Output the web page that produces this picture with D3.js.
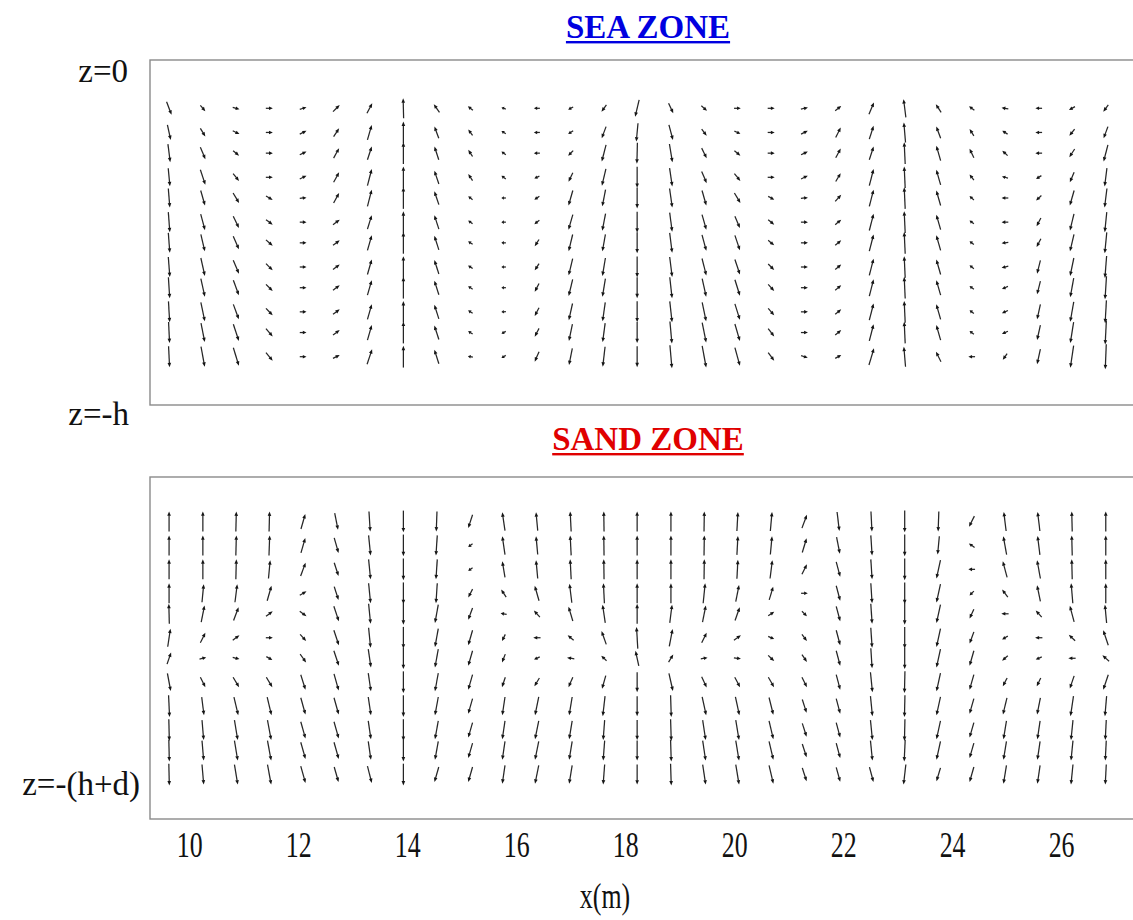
<!DOCTYPE html>
<html>
<head>
<meta charset="utf-8">
<script src="https://cdn.jsdelivr.net/npm/d3@7"></script>
<style>
  html, body { margin: 0; padding: 0; background: #fff; }
  svg { display: block; }
</style>
</head>
<body>
<svg id="chart" width="1133" height="920"></svg>
<script>
// Horizontal positions of the sampling columns (m)
const xCols = [9.63, 10.25, 10.86, 11.47, 12.09, 12.70, 13.31, 13.93, 14.54, 15.16,
               15.77, 16.38, 17.00, 17.61, 18.22, 18.84, 19.45, 20.06, 20.68, 21.29,
               21.91, 22.52, 23.13, 23.75, 24.36, 24.97, 25.59, 26.20, 26.82];
// Sampling depths, z/h (sea layer) and z/h (sand layer)
const zSea  = [-0.14, -0.21, -0.27, -0.34, -0.40, -0.47, -0.53, -0.60, -0.66, -0.73, -0.79, -0.86];
const zSand = [-1.13, -1.20, -1.27, -1.34, -1.40, -1.47, -1.53, -1.60, -1.67, -1.74, -1.80, -1.87];
const xTicks = [10, 12, 14, 16, 18, 20, 22, 24, 26];

// Sea zone: horizontal velocity u (rows = depth, columns = x)
const seaU = [
  [5, 5, 6.7, 7, 6.7, 6.7, 5.3, -0.5, -5.7, -5, -4.3, -6, -5, -5, -4, 4.7, 5.7, 6.7, 7, 7, 6, 5, -2.3, -5.3, -5.3, -6.7, -6.7, -6, -5],
  [3.3, 5, 6.7, 7, 6.7, 5.5, 4.3, 0, -4.3, -4.3, -4.3, -6, -5, -4.3, -1.7, 4, 5, 6, 7, 6.7, 5, 4.3, -1.7, -4.3, -4.3, -5.3, -6.7, -5.3, -4.3],
  [2.3, 5, 6, 7, 6.7, 5.5, 4.3, 0, -4.3, -4.3, -4.3, -6, -5, -4.3, -0.5, 3, 5, 6, 7, 6.7, 5, 4.3, -1, -4.3, -4.3, -5.3, -6.7, -5.3, -4.3],
  [1.7, 5, 6, 7, 6.7, 5.5, 4.3, 0, -4.5, -4.3, -4.3, -5, -4.3, -4, 0, 2.7, 5, 6, 7, 6.7, 5, 4.3, -1, -4.3, -4.3, -6, -5.3, -4.3, -2.3],
  [1.5, 4.3, 6, 6.7, 6.7, 5.5, 4.3, 0, -4.5, -4.3, -4.5, -5, -4.3, -3.3, 0, 2.7, 4.3, 6, 6, 7, 6, 4.3, -1, -4.3, -4.3, -6.7, -5.3, -4.3, -2.3],
  [1.5, 4.3, 5.7, 6.7, 6.7, 6.7, 4.3, 0, -4.5, -4.3, -4.5, -5, -4.3, -3.3, 0, 2.5, 4.3, 5, 6, 7, 6, 4.3, -1, -4.3, -4.3, -6.7, -4.3, -4, -2],
  [1.5, 4, 5.7, 6.7, 6.7, 6.7, 4.3, 0, -4.5, -4.5, -4.5, -4.3, -4, -3, 0, 2.5, 4.3, 5, 6, 7, 6, 4.3, -1, -4.3, -4.3, -6.7, -4.3, -4, -2],
  [1.5, 4, 5.7, 6.7, 6.7, 6.7, 4.3, 0, -4.5, -4.5, -4.5, -4.3, -4, -3, 0, 2.5, 4.3, 5, 6, 7, 6, 4.3, -1, -4.3, -4.3, -6.7, -3.3, -3.7, -1.7],
  [1.3, 4, 5.5, 6.7, 6.7, 6.7, 4.3, 0, -4.5, -4.5, -4.5, -4.3, -4, -3, 0, 2.3, 4, 5, 6, 7, 6, 4.3, -1, -4.3, -4.3, -6, -3.3, -3.5, -1.5],
  [1.2, 4, 5.5, 6.7, 6.7, 6.7, 4.3, 0, -4.5, -4.5, -4.5, -4.3, -3.7, -2.7, 0, 2.3, 4, 5, 6, 7, 6, 4.3, -1, -4.3, -4.3, -6, -3.3, -3.5, -1.3],
  [1, 3.7, 5.5, 6.7, 6.7, 6.7, 4.3, 0, -4.5, -4.5, -4.3, -4.3, -3.5, -2.5, 0, 2, 4, 5, 6, 7, 6, 4.3, -1, -4.3, -4.3, -6, -3.3, -3.3, -1.2],
  [1, 3.7, 5.5, 6.7, 6.7, 6.7, 5, 0, -4.5, -5, -4.3, -4.3, -3.3, -2.3, 0, 2, 4, 5, 6, 6.7, 6, 5, -1.7, -5, -6.7, -4.3, -3.3, -3.3, -1]
];
// Sea zone: vertical velocity w
const seaW = [
  [-13, -5.7, -1.7, 0, 2, 6.7, 10, 20, 8.3, 4, 1.7, 0, -2.7, -6.7, -16.7, -10, -5, 0, 0, 1.7, 4.7, 11.7, 18.3, 8.3, 4, 1, 0, -3.3, -6.7],
  [-15, -8, -3.3, 0, 3.3, 8.3, 15, 21.7, 11.7, 6, 2.7, 0, -3.3, -11.7, -18.3, -15, -6.7, -2.7, 0, 3.3, 10, 13.3, 20, 11.7, 6.7, 3.3, 0, -6.7, -11.7],
  [-18, -12, -5, 0, 3.3, 10, 13.3, 21.7, 13.3, 6.7, 3.3, 0, -5, -16.7, -21, -18.3, -10, -5, 0, 3.3, 9.3, 13.3, 21.7, 15, 9, 5, 0, -8.3, -16.7],
  [-18, -15, -7.3, 0, 3.3, 10, 16.7, 21.7, 13.3, 6.7, 3.3, -2.3, -9, -16.7, -21, -18.3, -11.7, -7.3, 0, 3.3, 8.3, 16.7, 21.7, 15, 5.7, 1.7, -3.3, -10, -18.3],
  [-19, -15, -10, -4, 0.7, 10, 16.7, 21.7, 13.3, 3.3, 0, -3.3, -15, -16.7, -21, -19, -15, -10, -3.3, 0.7, 6.7, 16.7, 21.7, 15, 4, 0, -5, -15, -19],
  [-20, -16, -11.7, -5, 0, 5, 14, 21.7, 14, 3.3, 0, -4, -15, -17, -21, -19, -15, -11.7, -5, 0, 5, 16.7, 21.7, 15, 3.3, 0, -8.3, -16.7, -20],
  [-20, -17, -13, -6, 0, 5, 15, 21.7, 14, 3, 0, -6.7, -16.7, -17, -21, -20, -16, -15, -5, 0, 5, 16.7, 21.7, 15, 3.3, -1, -8.3, -17, -21],
  [-20, -18, -13.3, -6.7, 0, 5, 15, 21.7, 14, 3, 0, -6.7, -16.7, -18, -21, -20, -17, -15, -6, 0, 5, 16.7, 21.7, 15, 3.3, -1.7, -13.3, -18, -22],
  [-21, -18, -15, -6.7, 0, 5, 15, 21.7, 14, 3, 0, -8.3, -16.7, -18, -21, -21, -18, -16, -6.7, 0, 5, 16.7, 21.7, 15, 3.3, -2.7, -13.3, -19, -23],
  [-21, -19, -15, -7, 0, 5, 15, 21.7, 14, 3, -0.5, -8.3, -16.7, -19, -21, -21, -19, -16, -7, 0, 5, 16.7, 21.7, 15, 3.3, -2.7, -15, -20, -23],
  [-21, -19, -16.7, -8, 0, 5, 15, 21.7, 14, 3, -2.3, -8.3, -16.7, -19, -21, -22, -20, -17, -8, 0, 5, 16.7, 21.7, 15, 3.3, -2.7, -15, -21, -24],
  [-21, -20, -18, -8.3, 0, 3.3, 15, 21.7, 14, 1, -2.7, -10, -16.7, -20, -21, -23, -21.7, -18.3, -8.3, -2.3, 3.3, 16.7, 20, 10, 0, -6, -15, -22, -25]
];
// Sand zone: horizontal seepage velocity u
const sandU = [
  [0, 0, 0.5, 0.5, 4.3, 3.3, 1.3, 0, -0.7, -4.3, -2.7, -1.7, -1, -0.3, 0, 0, 0.3, 1, 1.7, 5, 2.3, 1, 0, -0.7, -5.3, -2.3, -2.3, -0.5, 0],
  [0, 0, 0.5, 0.7, 4.3, 4.3, 2, 0, -1.3, -4.3, -2.7, -1.7, -1, -0.3, 0, 0, 0.3, 1, 1.7, 4.3, 3.3, 1.3, 0, -1.7, -5.7, -3.3, -2.3, -0.5, 0],
  [0, 0, 0.5, 1.7, 5, 4.3, 2, 0, -1.3, -4.3, -2.7, -1.7, -1, -0.3, 0, 0, 0.3, 1, 2.3, 5, 4, 1.3, 0, -4, -6.7, -4.3, -3.3, -0.5, 0],
  [0, 1.7, 2.3, 4.3, 6.7, 4.3, 2, 0, -1.3, -4.3, -5, -4.3, -2.3, -1, 0, 0, 2, 3.3, 4, 6.7, 4, 1.3, 0, -4, -4.3, -5.7, -3.3, -1.7, 0],
  [-0.5, 3.3, 5, 6.7, 6.7, 5, 2, 0, -3.3, -4.3, -6, -6, -4.3, -2.7, 0, 2.3, 3.3, 4.7, 6, 5, 4, 1.3, 0, -4, -4.3, -7.3, -6, -4.3, -1.7],
  [2.7, 5, 6.7, 7, 6, 5, 2, 0, -3.3, -4.3, -3.3, -7.3, -6, -4.7, -1.3, 3.3, 5, 7, 6, 5, 4, 1.3, 0, -4, -4.3, -5.7, -7.3, -6.3, -5],
  [4, 6.7, 6.7, 6, 6, 5, 2.7, 0, -3.3, -4.3, -3.3, -5.7, -7.3, -5.3, -3.3, 4.7, 6.7, 7, 6, 5, 4, 1.3, 0, -4, -4.3, -5.7, -6, -7.3, -6.7],
  [3.3, 5, 6, 6, 4.7, 4.7, 2.7, 0, -3.3, -4.3, -3.3, -5, -4.3, -3.7, 0, 4, 5, 5.3, 5.7, 5, 4, 2, -0.5, -4, -4.3, -4.3, -4, -4.3, -5],
  [1, 2.3, 4.3, 4.3, 4.7, 4.7, 2.7, 0, -3.3, -4.3, -2.7, -3.7, -3, -2.3, 0, 0.7, 4, 4, 4.3, 4.3, 4, 2, -0.5, -4, -4.3, -4, -3.3, -3, -1.7],
  [0.5, 1.7, 3.3, 3.7, 4.7, 4.7, 2.7, 0, -3.3, -4.3, -2.7, -3.7, -3, -1.5, 0, 0.7, 3, 3.3, 4.3, 4.3, 4, 2, -0.5, -4, -4.3, -3, -2.7, -2, -1],
  [0.5, 1.7, 3.3, 3.7, 4.7, 4.7, 2.7, 0, -3.3, -4.3, -2.7, -3.7, -3, -1.5, 0, 0.7, 3, 3.3, 4.3, 4.3, 4, 2, -1, -4, -4.3, -3, -2.7, -2, -1],
  [0.5, 1.7, 3.3, 3.7, 4.7, 4.3, 4.3, 0, -4.3, -4.3, -2.7, -3.7, -3, -1.5, 0, 0.7, 3, 3.3, 4.3, 4.3, 4, 4, -2.3, -4, -4.3, -3, -2.7, -2, -1]
];
// Sand zone: vertical seepage velocity w
const sandW = [
  [20, 20, 20, 20, 15, -16.7, -20, -21.7, -20, -13.3, 18.3, 18.3, 20, 20, 20, 20, 20, 19, 19, 13.3, -19, -20, -21.7, -20, -10.7, 19, 19, 20, 20],
  [20, 20, 20, 20, 15, -15, -20, -21.7, -20, -3.3, 18.3, 18.3, 20, 20, 20, 20, 20, 19, 18.3, 14.3, -16.7, -20, -21.7, -18.3, 4, 18.3, 19, 20, 20],
  [20, 20, 20, 18.3, 13.3, -13.3, -20, -21.7, -20, -3.3, 16, 18.3, 20, 20, 20, 20, 20, 19, 18.3, 10, -15, -20, -21.7, -18.3, 0, 16, 18.3, 20, 20],
  [20, 18, 18, 15, 4, -13.3, -20, -21.7, -20, -8.3, 7.7, 15, 19, 20, 20, 20, 20, 16.7, 13.3, 0, -15, -20, -21.7, -18.3, -4.3, 7.7, 16, 20, 20],
  [20, 16.7, 13.3, 5, -5, -15, -20, -21.7, -18.3, -11.7, 1, 6.7, 14.3, 18.3, 20, 18.3, 16.7, 13.3, 4, -5, -15, -20, -21.7, -18.3, -9.3, 0, 6.7, 16, 18.3],
  [18, 10, 5, 0, -6.7, -15, -20, -21.7, -18.3, -15, -6.7, 0, 5, 13.3, 21.7, 17.3, 10, 5, -2.7, -6.7, -15, -20, -21.7, -18.3, -11.7, -3.3, 0, 6, 15],
  [11.7, 1.7, -1.7, -3.3, -8.3, -15, -18.3, -21.7, -18.3, -15, -8.3, -2.7, 1, 5, 15, 7.7, 1, -1, -5.7, -7.3, -15, -20, -21.7, -18.3, -15, -5, -2.7, 0, 6],
  [-17.7, -10, -10, -10, -15, -16.7, -18.3, -21.7, -18.3, -15, -10, -8.3, -10, -13.3, -20, -17.7, -10.7, -10, -10, -10, -15, -20, -21.7, -18.3, -15, -8.3, -8.3, -12.7, -15],
  [-21.7, -18, -18, -18, -16.7, -16.7, -18.3, -21.7, -18.3, -15, -18.3, -18.3, -18.3, -20, -20, -21.7, -18.3, -18.3, -17.3, -13.3, -15, -20, -21.7, -18.3, -15, -16.7, -16.7, -20, -20],
  [-21.7, -20, -20, -20, -16.7, -16.7, -18.3, -21.7, -18.3, -15, -18.3, -18.3, -18.3, -20, -20, -21.7, -20, -20, -18.3, -13.3, -15, -20, -21.7, -18.3, -15, -18.3, -18.3, -20, -20],
  [-21.7, -20, -20, -20, -16.7, -16.7, -18.3, -21.7, -18.3, -15, -18.3, -18.3, -18.3, -20, -20, -21.7, -20, -20, -18.3, -13.3, -15, -20, -21.7, -18.3, -15, -18.3, -18.3, -20, -20],
  [-21.7, -20, -20, -20, -16.7, -15, -16.7, -21.7, -15, -15, -18.3, -18.3, -18.3, -20, -20, -21.7, -20, -20, -18.3, -13.3, -14.3, -15, -20, -13.3, -15, -18.3, -18.3, -20, -20]
];

const svg = d3.select("#chart");
const serif = "'Liberation Serif', 'Times New Roman', serif";

// Shared horizontal scale (m -> px); the plot frame runs past the right edge
const x = d3.scaleLinear().domain([9.28, 27.54]).range([150, 1145]);
// Vector components -> pixel offsets
const vel = d3.scaleLinear().domain([0, 1]).range([0, 1]);

const panels = [
  { name: "SEA ZONE",  color: "#0000e0", titleY: 38,  top: 60,  bottom: 405, domain: [0, -1], z: zSea,  u: seaU,  w: seaW },
  { name: "SAND ZONE", color: "#e00000", titleY: 450, top: 477, bottom: 819, domain: [-1, -2], z: zSand, u: sandU, w: sandW }
];

panels.forEach(p => {
  const y = d3.scaleLinear().domain(p.domain).range([p.top, p.bottom]);

  svg.append("rect")
    .attr("x", x.range()[0]).attr("y", p.top)
    .attr("width", x.range()[1] - x.range()[0]).attr("height", p.bottom - p.top)
    .attr("fill", "none").attr("stroke", "#8a8a8a").attr("stroke-width", 1.4);

  // Underlined zone title
  const t = svg.append("text")
    .attr("x", 648).attr("y", p.titleY)
    .attr("text-anchor", "middle")
    .attr("font-family", serif).attr("font-weight", "bold").attr("font-size", 33)
    .attr("fill", p.color)
    .text(p.name);
  const bb = t.node().getBBox();
  svg.append("rect")
    .attr("x", bb.x).attr("y", p.titleY + 3)
    .attr("width", bb.width).attr("height", 2.4)
    .attr("fill", p.color);

  // Velocity vectors, centred on their grid nodes
  const cells = [];
  p.z.forEach((zv, i) => xCols.forEach((xv, j) => {
    cells.push({ x: xv, z: zv, u: p.u[i][j], w: p.w[i][j] });
  }));

  const g = svg.append("g");
  cells.forEach(c => {
    const cx = x(c.x), cy = y(c.z);
    const dx = vel(c.u), dy = -vel(c.w);
    const len = Math.hypot(dx, dy);
    if (len < 0.5) return;
    const ux = dx / len, uy = dy / len;
    const x0 = cx - dx / 2, y0 = cy - dy / 2;
    const x1 = cx + dx / 2, y1 = cy + dy / 2;
    const hl = Math.min(4.4, len * 0.55), hw = 1.8;
    const bx = x1 - ux * hl, by = y1 - uy * hl;
    g.append("line")
      .attr("x1", x0).attr("y1", y0).attr("x2", bx + ux * 0.5).attr("y2", by + uy * 0.5)
      .attr("stroke", "#262626").attr("stroke-width", 1.25);
    g.append("path")
      .attr("d", `M${x1},${y1}L${bx - uy * hw},${by + ux * hw}L${bx + uy * hw},${by - ux * hw}Z`)
      .attr("fill", "#151515");
  });
});

// x axis: labels only, set in a condensed serif face
const axis = d3.axisBottom(x).tickValues(xTicks).tickSize(0).tickPadding(0).tickFormat(d3.format("d"));
const ax = svg.append("g").attr("transform", "translate(0,857)").call(axis);
ax.select(".domain").remove();
ax.selectAll(".tick text")
  .attr("font-family", serif).attr("font-size", 35).attr("fill", "#111")
  .attr("y", 0).attr("dy", 0)
  .attr("transform", "scale(0.74,1)");

svg.append("text")
  .attr("transform", "translate(605,908) scale(0.74,1)")
  .attr("text-anchor", "middle")
  .attr("font-family", serif).attr("font-size", 35).attr("fill", "#111")
  .text("x(m)");

// Depth markers
const depthLabels = [
  { text: "z=0", x: 128, y: 82 },
  { text: "z=-h", x: 129, y: 425 },
  { text: "z=-(h+d)", x: 140, y: 795 }
];
svg.selectAll("text.depth").data(depthLabels).join("text")
  .attr("class", "depth")
  .attr("x", d => d.x).attr("y", d => d.y)
  .attr("text-anchor", "end")
  .attr("font-family", serif).attr("font-size", 33).attr("fill", "#111")
  .text(d => d.text);
</script>
</body>
</html>
